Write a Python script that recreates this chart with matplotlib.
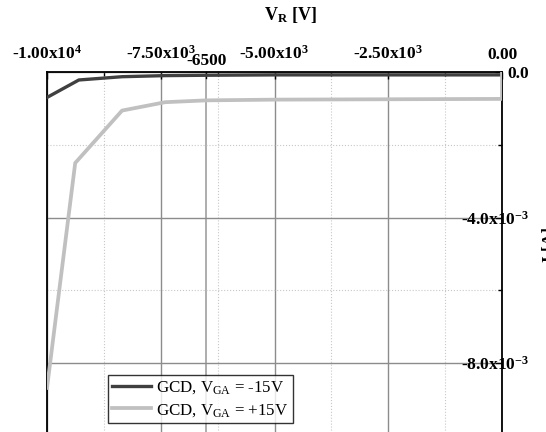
import matplotlib
matplotlib.use("Agg")
import matplotlib.pyplot as plt
import matplotlib.transforms as mtransforms
from matplotlib.ticker import FixedLocator

plt.rcParams['font.family'] = 'Liberation Serif'
plt.rcParams['mathtext.fontset'] = 'custom'
plt.rcParams['mathtext.rm'] = 'Liberation Serif'
plt.rcParams['mathtext.it'] = 'Liberation Serif:italic'
plt.rcParams['mathtext.bf'] = 'Liberation Serif:bold'

# data (V_R in V, I in A)
vr_neg15 = [-10000, -9300, -8350, -7400, -6500, -5000, -2500, 0, 0]
i_neg15 = [-0.70e-3, -0.22e-3, -0.13e-3, -0.10e-3, -0.09e-3, -0.08e-3, -0.08e-3, -0.08e-3, 0.0]
vr_pos15 = [-10000, -9380, -8350, -7400, -6500, -5000, -2500, 0, 0]
i_pos15 = [-8.68e-3, -2.50e-3, -1.06e-3, -0.83e-3, -0.78e-3, -0.76e-3, -0.75e-3, -0.74e-3, 0.0]

xticks = [-10000, -7500, -5000, -2500, 0]
xticklabels = [r'-1.00x10$^{\mathbf{4}}$', r'-7.50x10$^{\mathbf{3}}$', r'-5.00x10$^{\mathbf{3}}$',
               r'-2.50x10$^{\mathbf{3}}$', '0.00']
xminor = [-8750, -6250, -3750, -1250]
yticks = [0, -4e-3, -8e-3]
yticklabels = ['0.0', r'-4.0x10$^{\mathbf{-3}}$', r'-8.0x10$^{\mathbf{-3}}$']
yminor = [-2e-3, -6e-3, -10e-3]

fig = plt.figure(figsize=(5.46, 4.32), dpi=100)
ax = fig.add_axes([47/546, -0.0935, 455/546, 0.9269])

ax.plot(vr_neg15, i_neg15, color='#404040', lw=2.4, label=r'GCD, V$_{\mathrm{GA}}$ = -15V', zorder=3)
ax.plot(vr_pos15, i_pos15, color='#c0c0c0', lw=2.7, label=r'GCD, V$_{\mathrm{GA}}$ = +15V', zorder=3)

ax.set_xlim(-10000, 0)
ax.set_ylim(-0.011, 0)

ax.xaxis.set_major_locator(FixedLocator(xticks))
ax.xaxis.set_minor_locator(FixedLocator(xminor))
ax.set_xticklabels(xticklabels)
ax.yaxis.set_major_locator(FixedLocator(yticks))
ax.yaxis.set_minor_locator(FixedLocator(yminor))
ax.set_yticklabels(yticklabels)

ax.xaxis.tick_top()
ax.xaxis.set_label_position('top')
ax.yaxis.tick_right()
ax.yaxis.set_label_position('right')
ax.tick_params(axis='x', which='major', direction='in', length=5, width=1, pad=6.5, labelsize=12.5)
ax.tick_params(axis='x', which='minor', direction='in', length=3, width=1)
ax.tick_params(axis='y', which='major', direction='in', length=5, width=1, pad=19.5, labelsize=12.5)
ax.tick_params(axis='y', which='minor', direction='in', length=3, width=1)
for lbl in ax.get_xticklabels() + ax.get_yticklabels():
    lbl.set_fontweight('bold')
for lbl in ax.get_yticklabels():
    lbl.set_horizontalalignment('right')
    lbl.set_verticalalignment('center_baseline')

ax.grid(True, which='major', color='#8c8c8c', lw=1, ls='-')
ax.grid(True, which='minor', color='#c8c8c8', lw=0.8, ls=':')
ax.axvline(-6500, color='#a0a0a0', lw=1.2, zorder=1)
trans = mtransforms.blended_transform_factory(ax.transData, ax.transAxes)
ax.plot([-6500, -6500], [1, 0.985], color='black', lw=1, transform=trans, clip_on=False)
ax.text(-6500, 1.008, '-6500', transform=trans, ha='center', va='bottom',
        fontsize=12.5, fontweight='bold')

for s in ax.spines.values():
    s.set_linewidth(1.3)

ax.set_xlabel(r'V$_{\mathbf{R}}$ [V]', fontsize=13, fontweight='bold')
ax.xaxis.set_label_coords(0.534, 1.13)
ax.set_ylabel('I [A]', fontsize=12.5, fontweight='bold', rotation=90)
ax.yaxis.set_label_coords(1.088, 0.57)

leg = ax.legend(loc='lower left', bbox_to_anchor=(108/546, 9/432), bbox_transform=fig.transFigure,
                fontsize=12.2, frameon=True, fancybox=False, borderaxespad=0,
                handlelength=2.3, handletextpad=0.3, borderpad=0.25, labelspacing=0.35)
leg.get_frame().set_edgecolor('black')
leg.get_frame().set_linewidth(1)

fig.savefig('out.png', dpi=100)
